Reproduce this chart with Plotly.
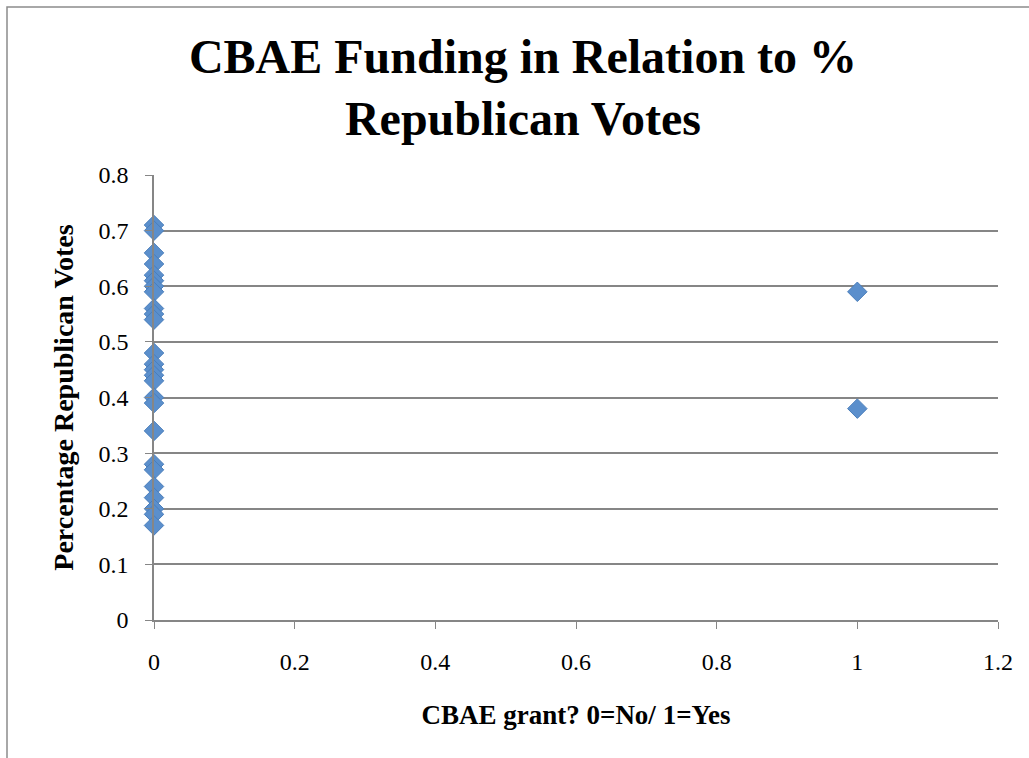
import plotly.graph_objects as go

grant_no_x = [0] * 26
grant_no_y = [0.71, 0.70, 0.66, 0.64, 0.62, 0.61, 0.60, 0.59, 0.56, 0.55, 0.54,
              0.48, 0.46, 0.45, 0.44, 0.43, 0.40, 0.39, 0.34, 0.28, 0.27, 0.24,
              0.22, 0.20, 0.19, 0.17]
grant_yes_x = [1, 1]
grant_yes_y = [0.59, 0.38]

x_ticks = [0, 0.2, 0.4, 0.6, 0.8, 1, 1.2]
x_tick_labels = ["0", "0.2", "0.4", "0.6", "0.8", "1", "1.2"]
y_ticks = [0, 0.1, 0.2, 0.3, 0.4, 0.5, 0.6, 0.7, 0.8]
y_tick_labels = ["0", "0.1", "0.2", "0.3", "0.4", "0.5", "0.6", "0.7", "0.8"]

W, H = 1029, 758
L, R, T, B = 154, 31, 175, 138
pw, ph = W - L - R, H - T - B

fig = go.Figure()
fig.add_trace(go.Scatter(
    x=grant_no_x + grant_yes_x, y=grant_no_y + grant_yes_y, mode="markers",
    marker=dict(symbol="diamond", size=15, color="#5B8FCC",
                line=dict(color="#4A7EBB", width=1)),
    showlegend=False, cliponaxis=False))

font_serif = "Liberation Serif"
fig.update_layout(
    width=W, height=H, autosize=False,
    margin=dict(l=L, r=R, t=T, b=B),
    paper_bgcolor="white", plot_bgcolor="white",
    font=dict(family=font_serif, color="black"),
    title=dict(text="<b>CBAE Funding in Relation to %<br>Republican Votes</b>",
               x=523 / W, xanchor="center", y=1 - 73 / H, yanchor="middle",
               font=dict(size=48, family=font_serif, color="black")),
    xaxis=dict(range=[0, 1.2], tickvals=x_ticks, ticktext=x_tick_labels,
               showgrid=False, zeroline=False, showline=True,
               linecolor="#868686", linewidth=1.5,
               ticks="outside", ticklen=7, tickcolor="#868686",
               tickfont=dict(size=24, family=font_serif), ticklabelstandoff=12,
               title=dict(text="<b>CBAE grant? 0=No/ 1=Yes</b>", standoff=32,
                          font=dict(size=27, family=font_serif))),
    yaxis=dict(range=[0, 0.8], tickvals=y_ticks, ticktext=y_tick_labels,
               showgrid=True, gridcolor="#868686", gridwidth=1.5,
               zeroline=False, showline=True,
               linecolor="#868686", linewidth=1.5,
               ticks="outside", ticklen=7, tickcolor="#868686",
               tickfont=dict(size=24, family=font_serif), ticklabelstandoff=12,
               title=dict(text="<b>Percentage Republican Votes</b>", standoff=17,
                          font=dict(size=28, family=font_serif))),
)

# chart outer border
fig.add_shape(type="rect", xref="paper", yref="paper",
              x0=(7 - L) / pw, x1=(W + 5 - L) / pw,
              y0=(-5 - B) / ph, y1=(H - 7 - B) / ph,
              line=dict(color="#8C8C8C", width=1.5), fillcolor="rgba(0,0,0,0)",
              layer="below")

fig.write_html("out.html")
